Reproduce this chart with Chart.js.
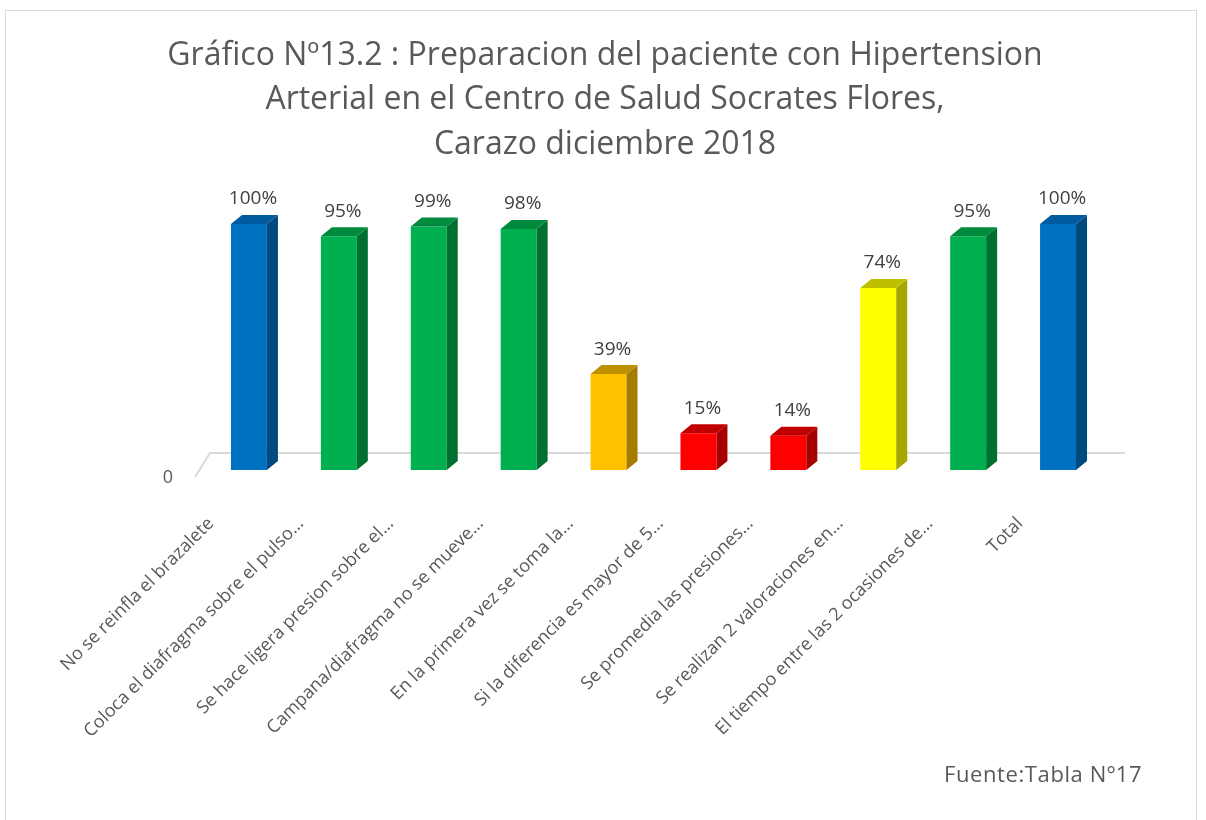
<!DOCTYPE html>
<html>
<head>
<meta charset="utf-8">
<script src="https://cdn.jsdelivr.net/npm/chart.js@4/dist/chart.umd.min.js"></script>
<style>
  html,body{margin:0;padding:0;background:#fff;}
  #wrap{position:relative;width:1206px;height:820px;}
  #frame{position:absolute;left:5px;top:10px;width:1192px;height:815px;border:1px solid #d9d9d9;box-sizing:border-box;}
  #fuente{position:absolute;left:944px;top:758px;font-family:"Open Sans",sans-serif;font-size:22px;letter-spacing:0.6px;color:#595959;}
</style>
</head>
<body>
<div id="wrap">
  <div id="frame"></div>
  <canvas id="grafico" width="1206" height="820"></canvas>
  <div id="fuente">Fuente:Tabla Nº17</div>
</div>
<script>
// datos
const categorias = [
  "No se reinfla el brazalete",
  "Coloca el diafragma sobre el pulso…",
  "Se hace ligera presion sobre el…",
  "Campana/diafragma no se mueve…",
  "En la primera vez se toma la…",
  "Si la diferencia es mayor de 5…",
  "Se promedia las presiones…",
  "Se realizan 2 valoraciones en…",
  "El tiempo entre las 2 ocasiones de…",
  "Total"
];
const porcentajes = [100, 95, 99, 98, 39, 15, 14, 74, 95, 100];
const titulo = [
  "Gráfico Nº13.2 : Preparacion del paciente con Hipertension",
  "Arterial en el Centro de Salud Socrates Flores,",
  "Carazo diciembre 2018"
];

// colores: frente, lateral, tapa
const colores = {
  azul:    ["#0070c0", "#004a80", "#005a9e"],
  verde:   ["#00b050", "#007030", "#008a3e"],
  naranja: ["#ffc000", "#a67c00", "#bf9000"],
  rojo:    ["#ff0000", "#a60000", "#c00000"],
  amarillo:["#ffff00", "#a6a600", "#bfbf00"]
};
const colorBarra = ["azul","verde","verde","verde","naranja","rojo","rojo","amarillo","verde","azul"];

const DX = 11, DY = 9;

// piso 3D, caras laterales y etiquetas
const efecto3d = {
  id:'efecto3d',
  beforeDatasetsDraw(chart){
    const {ctx, chartArea:a} = chart;
    const base = chart.scales.y.getPixelForValue(0);
    ctx.save();
    ctx.strokeStyle = '#d9d9d9';
    ctx.lineWidth = 2;
    ctx.beginPath();
    ctx.moveTo(a.left-9, base+7);
    ctx.lineTo(a.left+6, base-17);
    ctx.lineTo(a.right+22, base-17);
    ctx.stroke();
    ctx.restore();
  },
  afterDatasetsDraw(chart){
    const {ctx} = chart;
    const meta = chart.getDatasetMeta(0);
    ctx.save();
    meta.data.forEach((bar, i)=>{
      const c = colores[colorBarra[i]];
      const w = bar.width/2;
      const r = bar.x + w, l = bar.x - w;
      // lateral
      ctx.fillStyle = c[1];
      ctx.beginPath();
      ctx.moveTo(r, bar.y);
      ctx.lineTo(r+DX, bar.y-DY);
      ctx.lineTo(r+DX, bar.base-DY);
      ctx.lineTo(r, bar.base);
      ctx.closePath();
      ctx.fill();
      // tapa
      ctx.fillStyle = c[2];
      ctx.beginPath();
      ctx.moveTo(l, bar.y);
      ctx.lineTo(l+DX, bar.y-DY);
      ctx.lineTo(r+DX, bar.y-DY);
      ctx.lineTo(r, bar.y);
      ctx.closePath();
      ctx.fill();
      // etiqueta
      ctx.fillStyle = '#404040';
      ctx.font = '19px "Open Sans", sans-serif';
      ctx.textAlign = 'center';
      ctx.textBaseline = 'middle';
      ctx.fillText(porcentajes[i] + '%', bar.x + 4, bar.y - 25);
    });
    ctx.restore();
  }
};

const chart = new Chart(document.getElementById('grafico').getContext('2d'), {
  type:'bar',
  data:{
    labels: categorias,
    datasets:[{
      data: porcentajes,
      backgroundColor: colorBarra.map(k=>colores[k][0]),
      barPercentage: 0.4,
      categoryPercentage: 1.0
    }]
  },
  options:{
    responsive:false,
    animation:false,
    layout:{ padding:{ left:107, right:103, top:10, bottom:43 } },
    plugins:{
      legend:{ display:false },
      tooltip:{ enabled:false },
      title:{
        display:true,
        text: titulo,
        color:'#595959',
        font:{ family:'"Open Sans", sans-serif', size:32, weight:'normal', lineHeight:1.4 },
        padding:{ top:23, bottom:32 }
      }
    },
    scales:{
      x:{
        grid:{ display:false },
        border:{ display:false },
        ticks:{
          color:'#595959',
          font:{ family:'"Open Sans", sans-serif', size:18 },
          minRotation:45, maxRotation:45,
          autoSkip:false,
          padding:35,
          labelOffset:-38
        }
      },
      y:{
        min:0, max:110,
        grid:{ display:false },
        border:{ display:false },
        afterFit:(s)=>{ s.width = 97; },
        ticks:{
          stepSize:110,
          color:'#595959',
          font:{ family:'"Open Sans", sans-serif', size:18 },
          padding:23,
          labelOffset:8,
          callback:(v)=> v===0 ? '0' : ''
        }
      }
    }
  },
  plugins:[efecto3d]
});
</script>
</body>
</html>
